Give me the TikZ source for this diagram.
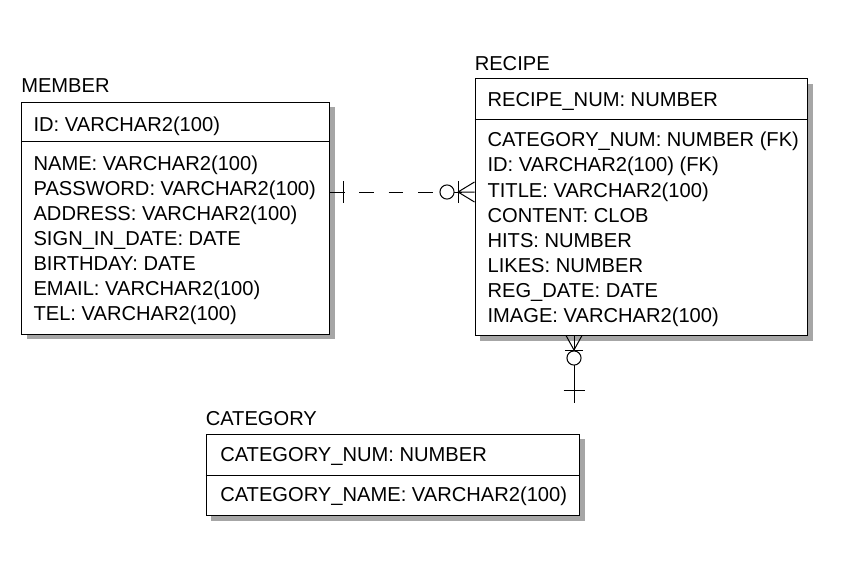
\documentclass[tikz,border=0pt]{standalone}
\usepackage{fontspec}
\setmainfont{Liberation Sans}
\usetikzlibrary{shadows}

\tikzset{
  entity/.style={draw,fill=white,line width=0.75pt,anchor=north west,inner sep=0pt,
    general shadow={fill=gray!70,shadow xshift=4pt,shadow yshift=-4pt}},
  col/.style={anchor=base west,inner sep=0pt,font=\fontsize{15.1}{18}\selectfont},
  rel/.style={line width=0.75pt}
}

\begin{document}
\begin{tikzpicture}[x=0.75pt,y=-0.75pt]
  \useasboundingbox (0,0) rectangle (848,571);
  \def\pitch{25.15} % row spacing of the attribute lines

  % MEMBER
  \node[col] (memberTitle) at (21,92.5) {MEMBER};
  \node[entity,minimum width=231pt,minimum height=174pt] (member) at (21,101.5) {};
  \draw[rel] (member.west |- 0,141.7) -- (member.east |- 0,141.7);
  \node[col] (memberKey) at (33.3,131) {ID: VARCHAR2(100)};
  \foreach \txt [count=\i from 0] in {NAME: VARCHAR2(100),PASSWORD: VARCHAR2(100),
      ADDRESS: VARCHAR2(100),SIGN\_IN\_DATE: DATE,BIRTHDAY: DATE,
      EMAIL: VARCHAR2(100),TEL: VARCHAR2(100)}
    \node[col] (memberAttr\i) at (33.3,{170+\pitch*\i}) {\txt};

  % RECIPE
  \node[col] (recipeTitle) at (474.5,70) {RECIPE};
  \node[entity,minimum width=249.3pt,minimum height=192.5pt] (recipe) at (474.5,78.3) {};
  \draw[rel] (recipe.west |- 0,119) -- (recipe.east |- 0,119);
  \node[col] (recipeKey) at (487.3,106) {RECIPE\_NUM: NUMBER};
  \foreach \txt [count=\i from 0] in {CATEGORY\_NUM: NUMBER (FK),ID: VARCHAR2(100) (FK),
      TITLE: VARCHAR2(100),CONTENT: CLOB,HITS: NUMBER,LIKES: NUMBER,
      REG\_DATE: DATE,IMAGE: VARCHAR2(100)}
    \node[col] (recipeAttr\i) at (487.3,{146.7+\pitch*\i}) {\txt};

  % CATEGORY
  \node[col] (categoryTitle) at (205.5,425) {CATEGORY};
  \node[entity,minimum width=280pt,minimum height=61.3pt] (category) at (205.5,433.5) {};
  \draw[rel] (category.west |- 0,475) -- (category.east |- 0,475);
  \node[col] (categoryKey) at (220,461.7) {CATEGORY\_NUM: NUMBER};
  \node[col] (categoryAttr0) at (220,501.7) {CATEGORY\_NAME: VARCHAR2(100)};

  % MEMBER -- RECIPE (non-identifying, dashed)
  \coordinate (mrOne) at (343.5,192);
  \coordinate (mrFoot) at (458,192);
  \draw[rel,dash pattern=on 11pt off 11pt] (member.east |- mrOne) -- (recipe.west |- mrOne);
  \draw[rel] (member.east |- mrOne) -- (mrOne);
  \draw[rel] (mrOne) ++(0,-11) -- ++(0,22);
  \draw[rel] (mrFoot) ++(0,-11) -- ++(0,22);
  \draw[rel,fill=white] (mrFoot) ++(-11,0) circle[radius=5.3pt];
  \draw[rel] (mrFoot) -- (recipe.west |- 0,182)
             (mrFoot) -- (recipe.west |- mrFoot)
             (mrFoot) -- (recipe.west |- 0,202);

  % RECIPE -- CATEGORY
  \coordinate (rcFoot) at (574,350);
  \coordinate (rcEnd) at (574,403);
  \draw[rel] (recipe.south -| rcFoot) -- (rcEnd);
  \draw[rel] (rcFoot) -- (566,335.5) (rcFoot) -- (582,335.5);
  \draw[rel] (rcFoot) ++(-9,0) -- ++(18,0);
  \draw[rel,fill=white] (rcFoot) ++(0,8) circle[radius=5.3pt];
  \draw[rel] (rcEnd) ++(-10.5,-13) -- ++(21,0);
\end{tikzpicture}
\end{document}
